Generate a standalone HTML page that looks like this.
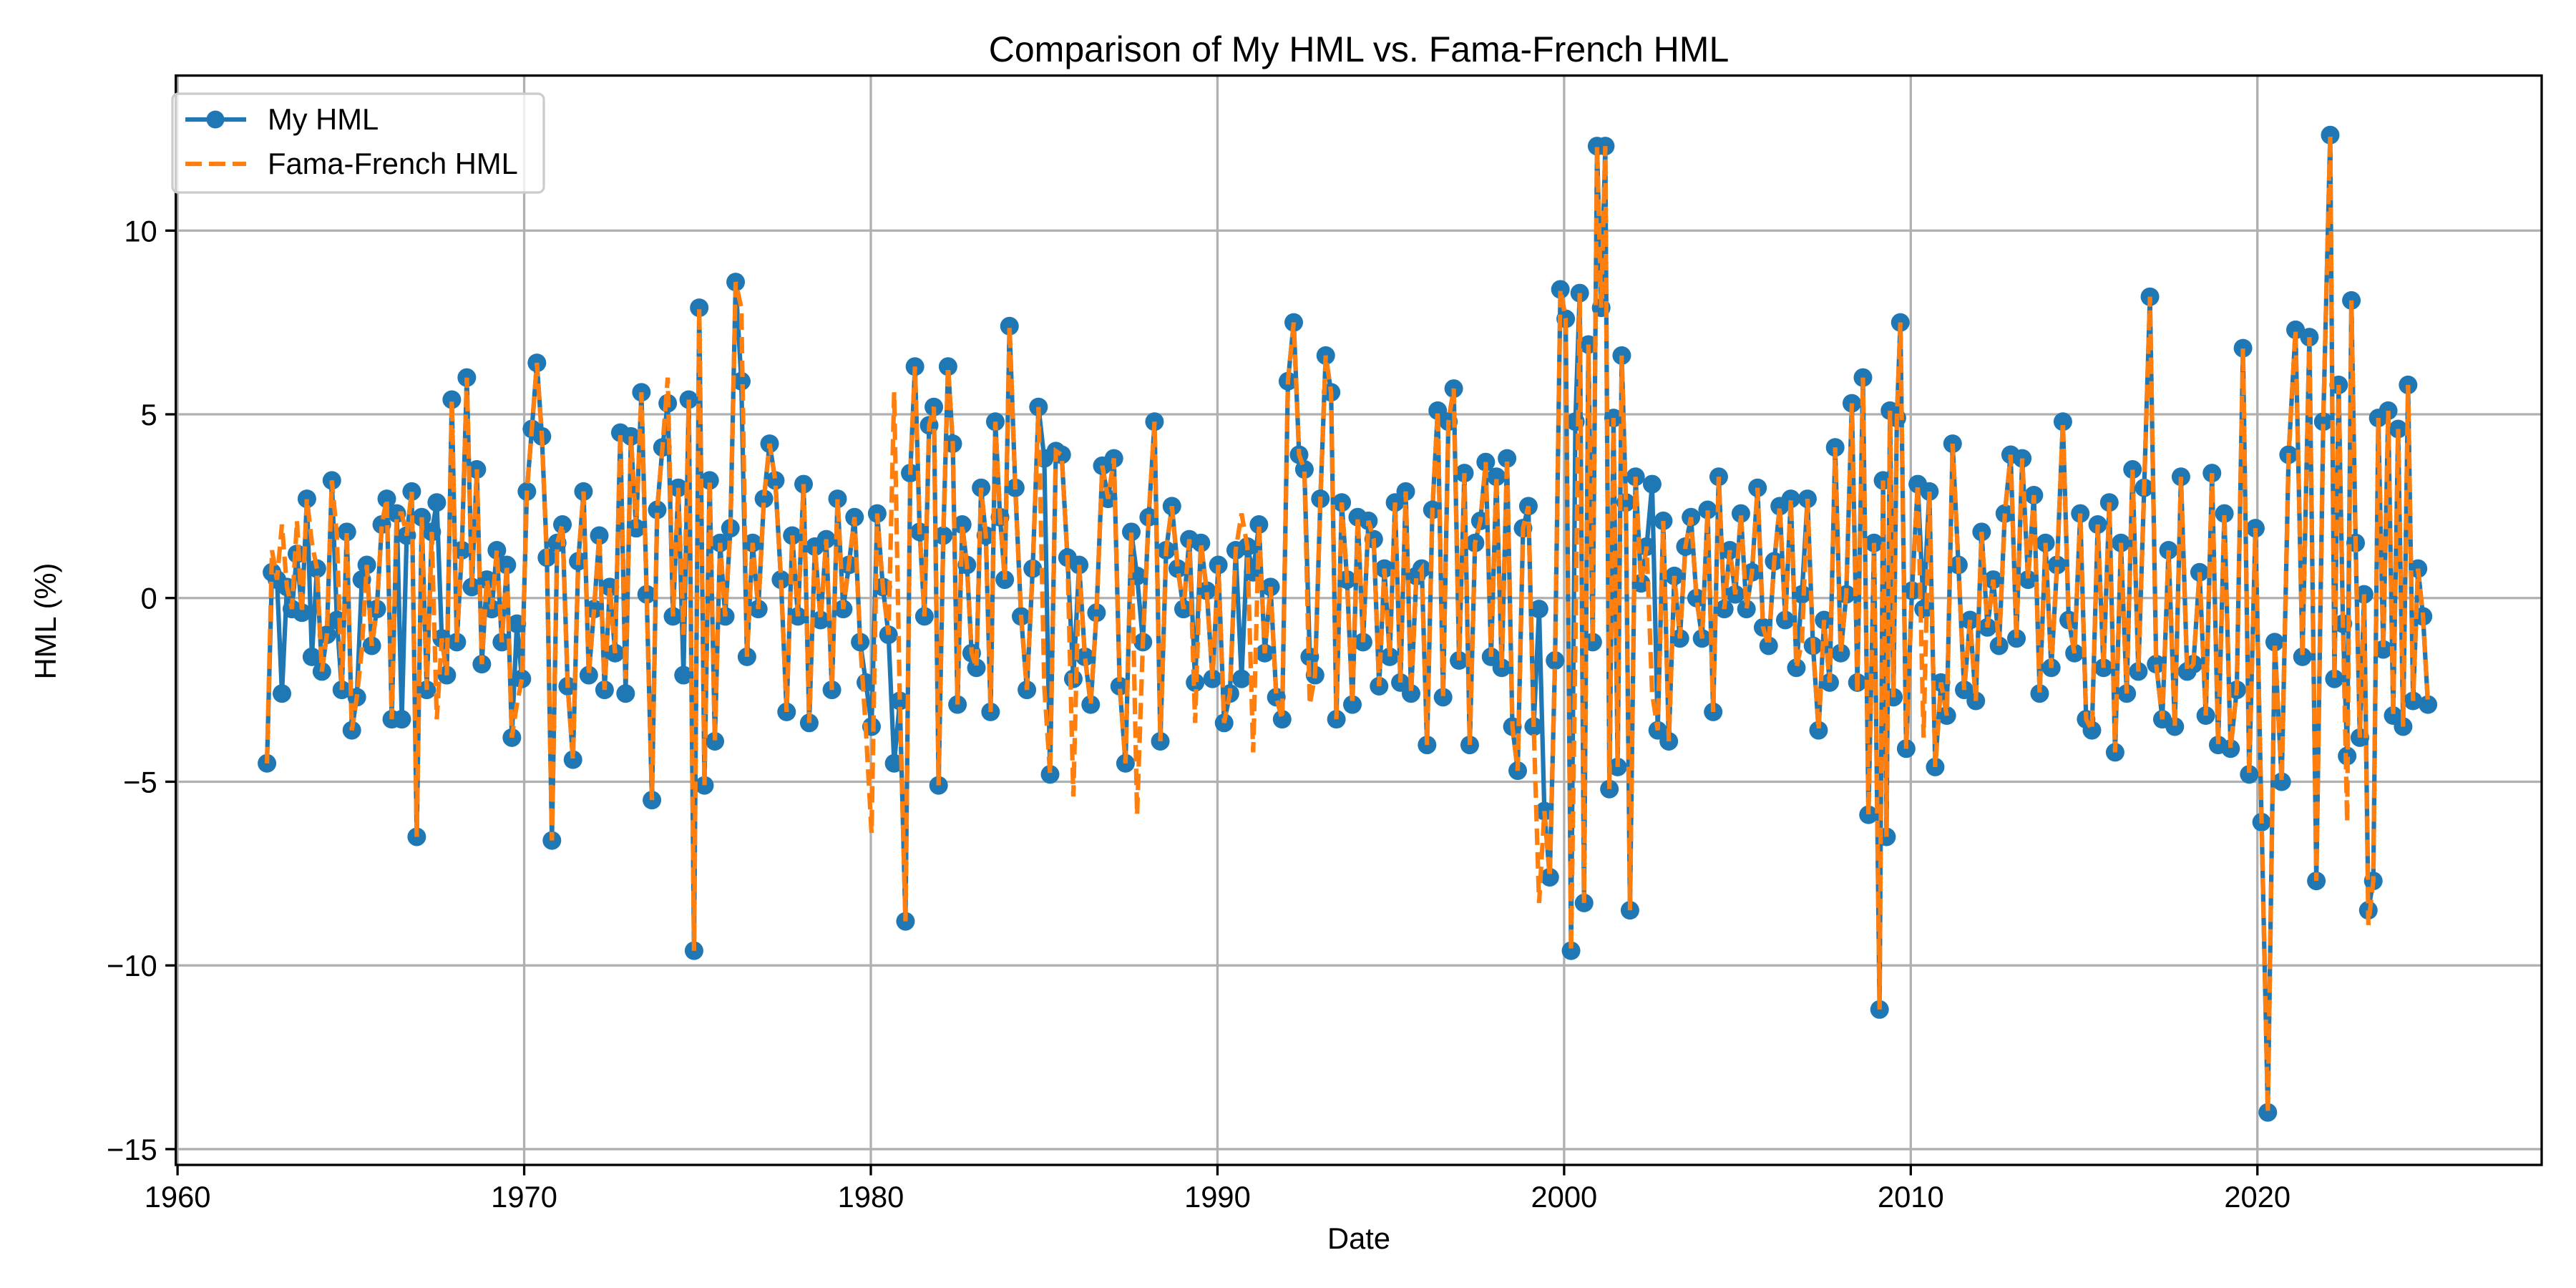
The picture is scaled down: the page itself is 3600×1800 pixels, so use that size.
<!DOCTYPE html>
<html><head><meta charset="utf-8"><style>
html,body{margin:0;padding:0;background:#fff;}
svg{display:block;font-family:"Liberation Sans","DejaVu Sans",sans-serif;}
</style></head><body>
<svg id="chart" width="3600" height="1800" viewBox="0 0 3600 1800" xmlns="http://www.w3.org/2000/svg">
<rect width="3600" height="1800" fill="#fff"/>
<g id="grid"></g>
<g id="series"></g>
<rect x="245.7" y="105.6" width="3306.3" height="1522.4" fill="none" stroke="#000" stroke-width="3.3"/>
<g id="axes"></g>
<text x="1899" y="86" font-size="50" text-anchor="middle">Comparison of My HML vs. Fama-French HML</text>
<text x="1899" y="1745" font-size="41.7" text-anchor="middle">Date</text>
<text x="0" y="0" font-size="41.7" text-anchor="middle" transform="translate(78,868) rotate(-90)">HML (%)</text>
<g>
<rect x="241" y="131" width="519" height="138" rx="8" fill="#fff" fill-opacity="0.8" stroke="#ccc" stroke-width="3.3"/>
<g>
<line x1="259" y1="167" x2="344" y2="167" stroke="#1f77b4" stroke-width="6.25"/>
<circle cx="301" cy="167" r="12.5" fill="#1f77b4"/>
<text x="374" y="181" font-size="41.7">My HML</text>
</g>
<g>
<line x1="259" y1="229" x2="344" y2="229" stroke="#ff7f0e" stroke-width="6.25" stroke-dasharray="23,10"/>
<text x="374" y="243" font-size="41.7">Fama-French HML</text>
</g>
</g>
</svg>
<script>
const keyIdx = [0, 30, 57, 84, 92, 122, 144, 193, 245, 251, 259, 304, 310, 353, 372, 381, 390, 402];
const keyDate = [1962.58, 1966.9, 1970.8, 1974.9, 1976.1, 1981.0, 1984.0, 1992.2, 2000.2, 2000.95, 2001.9, 2009.1, 2009.7, 2016.9, 2020.3, 2022.1, 2023.2, 2024.92];
const xTicks = [1960, 1970, 1980, 1990, 2000, 2010, 2020];
const yTicks = [-15, -10, -5, 0, 5, 10];
const myHml = [-4.5,0.7,0.5,-2.6,0.3,-0.3,1.2,-0.4,2.7,-1.6,0.8,-2.0,-1.0,3.2,-0.6,-2.5,1.8,-3.6,-2.7,0.5,0.9,-1.3,-0.3,2.0,2.7,-3.3,2.3,-3.3,1.7,2.9,-6.5,2.2,-2.5,1.8,2.6,-1.1,-2.1,5.4,-1.2,1.3,6.0,0.3,3.5,-1.8,0.5,-0.3,1.3,-1.2,0.9,-3.8,-0.7,-2.2,2.9,4.6,6.4,4.4,1.1,-6.6,1.5,2.0,-2.4,-4.4,1.0,2.9,-2.1,-0.3,1.7,-2.5,0.3,-1.5,4.5,-2.6,4.4,1.9,5.6,0.1,-5.5,2.4,4.1,5.3,-0.5,3.0,-2.1,5.4,-9.6,7.9,-5.1,3.2,-3.9,1.5,-0.5,1.9,8.6,5.9,-1.6,1.5,-0.3,2.7,4.2,3.2,0.5,-3.1,1.7,-0.5,3.1,-3.4,1.4,-0.6,1.6,-2.5,2.7,-0.3,0.9,2.2,-1.2,-2.3,-3.5,2.3,0.3,-1.0,-4.5,-2.8,-8.8,3.4,6.3,1.8,-0.5,4.7,5.2,-5.1,1.7,6.3,4.2,-2.9,2.0,0.9,-1.5,-1.9,3.0,1.7,-3.1,4.8,2.2,0.5,7.4,3.0,-0.5,-2.5,0.8,5.2,3.8,-4.8,4.0,3.9,1.1,-2.2,0.9,-1.6,-2.9,-0.4,3.6,2.7,3.8,-2.4,-4.5,1.8,0.6,-1.2,2.2,4.8,-3.9,1.3,2.5,0.8,-0.3,1.6,-2.3,1.5,0.2,-2.2,0.9,-3.4,-2.6,1.3,-2.2,1.4,0.7,2.0,-1.5,0.3,-2.7,-3.3,5.9,7.5,3.9,3.5,-1.6,-2.1,2.7,6.6,5.6,-3.3,2.6,0.5,-2.9,2.2,-1.2,2.1,1.6,-2.4,0.8,-1.6,2.6,-2.3,2.9,-2.6,0.6,0.8,-4.0,2.4,5.1,-2.7,4.8,5.7,-1.7,3.4,-4.0,1.5,2.1,3.7,-1.6,3.3,-1.9,3.8,-3.5,-4.7,1.9,2.5,-3.5,-0.3,-5.8,-7.6,-1.7,8.4,7.6,-9.6,4.8,8.3,-8.3,6.9,-1.2,12.3,7.9,12.3,-5.2,4.9,-4.6,6.6,2.6,-8.5,3.3,0.4,1.4,3.1,-3.6,2.1,-3.9,0.6,-1.1,1.4,2.2,0.0,-1.1,2.4,-3.1,3.3,-0.3,1.3,0.1,2.3,-0.3,0.7,3.0,-0.8,-1.3,1.0,2.5,-0.6,2.7,-1.9,0.1,2.7,-1.3,-3.6,-0.6,-2.3,4.1,-1.5,0.1,5.3,-2.3,6.0,-5.9,1.5,-11.2,3.2,-6.5,5.1,-2.7,4.9,7.5,-4.1,0.2,3.1,-0.3,2.9,-4.6,-2.3,-3.2,4.2,0.9,-2.5,-0.6,-2.8,1.8,-0.8,0.5,-1.3,2.3,3.9,-1.1,3.8,0.5,2.8,-2.6,1.5,-1.9,0.9,4.8,-0.6,-1.5,2.3,-3.3,-3.6,2.0,-1.9,2.6,-4.2,1.5,-2.6,3.5,-2.0,3.0,8.2,-1.8,-3.3,1.3,-3.5,3.3,-2.0,-1.8,0.7,-3.2,3.4,-4.0,2.3,-4.1,-2.5,6.8,-4.8,1.9,-6.1,-14.0,-1.2,-5.0,3.9,7.3,-1.6,7.1,-7.7,4.8,12.6,-2.2,5.8,-0.7,-4.3,8.1,1.5,-3.8,0.1,-8.5,-7.7,4.9,-1.4,5.1,-3.2,4.6,-3.5,5.8,-2.8,0.8,-0.5,-2.9];
const ffOverrideIdx = [1,3,6,9,14,19,27,34,50,71,79,82,93,115,116,120,150,155,166,176,184,186,196,239,246,263,290,300,314,385,390];
const ffOverrideVal = [1.3,2.0,2.1,1.5,1.7,-1.4,2.3,-3.3,-2.9,-2.2,6.0,-1.0,7.9,-3.6,-6.4,5.6,-2.4,-5.4,-5.9,-3.4,2.3,-4.2,-2.9,-8.3,-1.3,-2.6,-1.2,-2.6,-3.8,-6.1,-8.9];

const SVGNS = "http://www.w3.org/2000/svg";
const L = 245.7, R = 3552, T = 105.6, B = 1628;
const xMin = 1959.95, xMax = 2028.2, yMin = -15.43, yMax = 14.22;
function xScale(v){ return L + (v - xMin) / (xMax - xMin) * (R - L); }
function yScale(v){ return B - (v - yMin) / (yMax - yMin) * (B - T); }
function dateAt(i){
  for (let k = 0; k < keyIdx.length - 1; k++) {
    if (i <= keyIdx[k+1]) {
      const f = (i - keyIdx[k]) / (keyIdx[k+1] - keyIdx[k]);
      return keyDate[k] + f * (keyDate[k+1] - keyDate[k]);
    }
  }
  return keyDate[keyDate.length - 1];
}

const ffHml = myHml.slice();
ffOverrideIdx.forEach((idx, k) => { ffHml[idx] = ffOverrideVal[k]; });

const grid = document.getElementById('grid');
const axes = document.getElementById('axes');
function mk(tag, attrs, parent){
  const el = document.createElementNS(SVGNS, tag);
  for (const k in attrs) el.setAttribute(k, attrs[k]);
  parent.appendChild(el);
  return el;
}
xTicks.forEach(t => {
  const x = xScale(t);
  const g = mk('line', {x1:x, x2:x, y1:T, y2:B, stroke:'#b0b0b0', 'stroke-width':3.3}, grid);
  
  
  const tk = mk('line', {x1:x, x2:x, y1:B, y2:B+14.6, stroke:'#000', 'stroke-width':3.3}, axes);
  
  
  const lb = mk('text', {x:x, y:B+59, 'font-size':41.7, 'text-anchor':'middle'}, axes);
  lb.textContent = String(t);
  
  
});
yTicks.forEach(t => {
  const y = yScale(t);
  const g = mk('line', {x1:L, x2:R, y1:y, y2:y, stroke:'#b0b0b0', 'stroke-width':3.3}, grid);
  
  
  const tk = mk('line', {x1:L-14.6, x2:L, y1:y, y2:y, stroke:'#000', 'stroke-width':3.3}, axes);
  
  
  const lb = mk('text', {x:L-26, y:y+15, 'font-size':41.7, 'text-anchor':'end'}, axes);
  lb.textContent = t < 0 ? '\u2212' + Math.abs(t) : String(t);
  
  
});

const series = document.getElementById('series');
const myPts = myHml.map((v, i) => xScale(dateAt(i)).toFixed(1) + ',' + yScale(v).toFixed(1)).join(' ');
const myLine = mk('polyline', {points: myPts, fill:'none', stroke:'#1f77b4', 'stroke-width':6.25, 'stroke-linejoin':'round'}, series);


const markers = mk('g', {fill:'#1f77b4'}, series);


myHml.forEach((v, i) => {
  const c = mk('circle', {cx: xScale(dateAt(i)), cy: yScale(v), r: 13}, markers);
  
  
});
const ffPts = ffHml.map((v, i) => xScale(dateAt(i)).toFixed(1) + ',' + yScale(v).toFixed(1)).join(' ');
const ffLine = mk('polyline', {points: ffPts, fill:'none', stroke:'#ff7f0e', 'stroke-width':6.25, 'stroke-dasharray':'23,10'}, series);


</script>
</body></html>
